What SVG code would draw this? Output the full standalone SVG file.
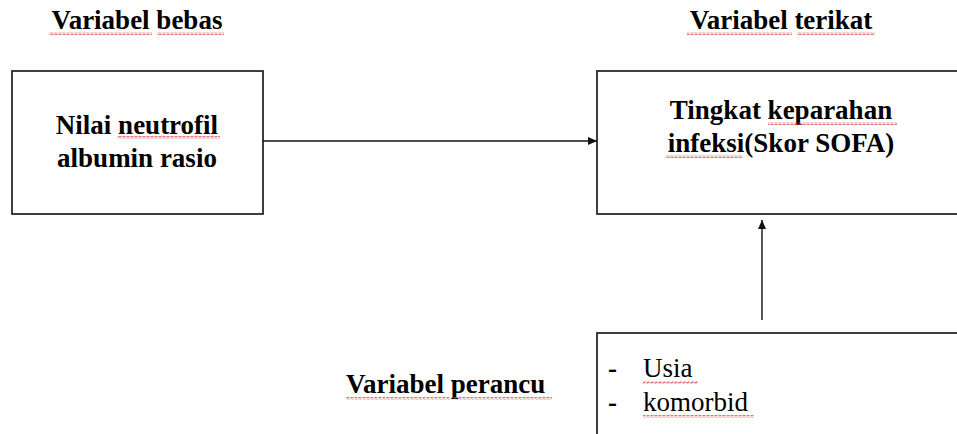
<svg xmlns="http://www.w3.org/2000/svg" width="957" height="434" viewBox="0 0 957 434">
<style>
.box{fill:#fff;stroke:#2a2a2a;stroke-width:1.8}
.t{font-family:"Liberation Serif",serif;font-size:27px;fill:#000}
.b{font-weight:700}
.c{text-anchor:middle}
.conn{stroke:#111;stroke-width:1.4;fill:none}
.sq{fill:url(#squig)}
</style>
<defs>
<marker id="ah" viewBox="0 0 10 10" refX="10" refY="5" markerWidth="9" markerHeight="9" markerUnits="userSpaceOnUse" orient="auto">
<path d="M0 0.5 L10 5 L0 9.5 Z" fill="#111"/>
</marker>
<pattern id="squig" width="4" height="3" patternUnits="userSpaceOnUse">
<path d="M0 2.5 L1 0.5 L3 2.5 L4 0.5" fill="none" stroke="#e05050" stroke-width="0.8"/>
</pattern>
</defs>
<rect width="957" height="434" fill="#fff"/>

<g id="label-bebas">
<text class="t b c" x="137" y="29">Variabel bebas</text>
<rect class="sq" x="49" y="32" width="103" height="3"/>
<rect class="sq" x="157" y="32" width="67" height="3"/>
</g>

<g id="label-terikat">
<text class="t b c" x="781" y="29">Variabel terikat</text>
<rect class="sq" x="687" y="32" width="105" height="3"/>
<rect class="sq" x="797" y="32" width="78" height="3"/>
</g>

<g id="node-nar">
<rect class="box" x="12" y="71" width="251" height="143"/>
<text class="t b c" x="137" y="134">Nilai neutrofil</text>
<text class="t b c" x="137" y="167">albumin rasio</text>
<rect class="sq" x="117" y="136" width="103" height="3"/>
</g>

<g id="node-sofa">
<rect class="box" x="597" y="71" width="380" height="143"/>
<text class="t b c" x="781" y="119">Tingkat keparahan</text>
<text class="t b c" x="781" y="152">infeksi(Skor SOFA)</text>
<rect class="sq" x="768" y="122" width="129" height="3"/>
<rect class="sq" x="665" y="155" width="78" height="3"/>
</g>

<g id="node-perancu">
<rect class="box" x="597" y="333" width="380" height="120"/>
<text class="t b" x="608" y="377">-</text>
<text class="t" x="643" y="377">Usia</text>
<text class="t b" x="608" y="411">-</text>
<text class="t" x="643" y="411">komorbid</text>
<rect class="sq" x="643" y="381" width="55" height="3"/>
<rect class="sq" x="643" y="415" width="111" height="3"/>
</g>

<g id="label-perancu">
<text class="t b" x="346" y="393">Variabel perancu</text>
<rect class="sq" x="346" y="397" width="104" height="3"/>
<rect class="sq" x="453" y="397" width="99" height="3"/>
</g>

<g id="connectors">
<line class="conn" x1="263" y1="141" x2="597" y2="141" marker-end="url(#ah)"/>
<line class="conn" x1="762" y1="320" x2="762" y2="220" marker-end="url(#ah)"/>
</g>
</svg>
